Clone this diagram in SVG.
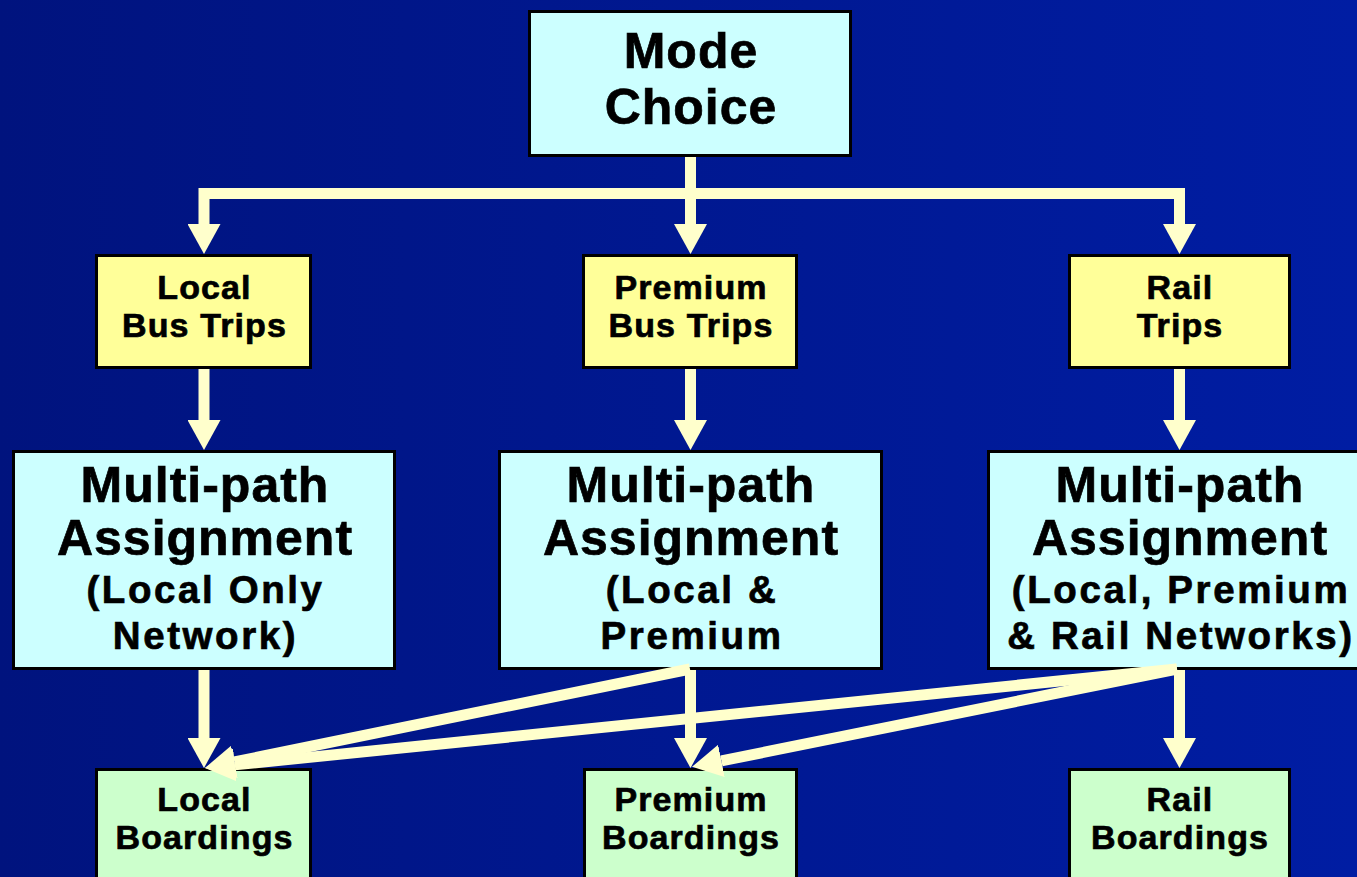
<svg xmlns="http://www.w3.org/2000/svg" width="1357" height="877" viewBox="0 0 1357 877">
  <defs>
    <linearGradient id="bg" x1="0" y1="0" x2="1" y2="0">
      <stop offset="0" stop-color="#00137E"/>
      <stop offset="1" stop-color="#001DA3"/>
    </linearGradient>
    <!-- arrowhead: base at the path end, tip 30px further on -->
    <marker id="head" viewBox="0 0 30 33" refX="0" refY="16.5" markerWidth="30" markerHeight="33" markerUnits="userSpaceOnUse" orient="auto">
      <path d="M0 0 L30 16.5 L0 33 Z" fill="#FFFFCC"/>
    </marker>
    <style>
      .box { stroke: #000; stroke-width: 3; }
      .cyan { fill: #CCFFFF; }
      .yellow { fill: #FFFF99; }
      .green { fill: #CCFFCC; }
      text { font-family: "Liberation Sans", Arial, sans-serif; font-weight: bold; fill: #000; stroke: #000; stroke-width: 0.7; text-anchor: middle; }
      .t48 { font-size: 50px; letter-spacing: 1px; }
      .t36 { font-size: 38.5px; letter-spacing: 2.6px; }
      .t32 { font-size: 34px; letter-spacing: 1.1px; }
      .link { fill: none; stroke: #FFFFCC; stroke-width: 11; stroke-linejoin: miter; stroke-linecap: butt; }
    </style>
  </defs>

  <rect x="0" y="0" width="1357" height="877" fill="url(#bg)"/>

  <!-- top node -->
  <g id="mode-choice">
    <rect class="box cyan" x="529.5" y="11.5" width="321" height="144"/>
    <text class="t48" x="691" y="68">Mode</text>
    <text class="t48" x="691" y="124">Choice</text>
  </g>

  <!-- trip tables -->
  <g id="local-bus-trips">
    <rect class="box yellow" x="96.5" y="255.5" width="214" height="112"/>
    <text class="t32" x="204.5" y="299">Local</text>
    <text class="t32" x="204.5" y="337">Bus Trips</text>
  </g>
  <g id="premium-bus-trips">
    <rect class="box yellow" x="583.5" y="255.5" width="213" height="112"/>
    <text class="t32" x="691" y="299">Premium</text>
    <text class="t32" x="691" y="337">Bus Trips</text>
  </g>
  <g id="rail-trips">
    <rect class="box yellow" x="1069.5" y="255.5" width="220" height="112"/>
    <text class="t32" x="1180" y="299">Rail</text>
    <text class="t32" x="1180" y="337">Trips</text>
  </g>

  <!-- assignments -->
  <g id="assign-local">
    <rect class="box cyan" x="13.5" y="451.5" width="381" height="217"/>
    <text class="t48" x="205" y="502">Multi-path</text>
    <text class="t48" x="205" y="555">Assignment</text>
    <text class="t36" x="205.5" y="603">(Local Only</text>
    <text class="t36" x="205.5" y="649">Network)</text>
  </g>
  <g id="assign-premium">
    <rect class="box cyan" x="499.5" y="451.5" width="382" height="217"/>
    <text class="t48" x="691" y="502">Multi-path</text>
    <text class="t48" x="691" y="555">Assignment</text>
    <text class="t36" x="692" y="603">(Local &amp;</text>
    <text class="t36" x="692" y="649">Premium</text>
  </g>
  <g id="assign-rail">
    <rect class="box cyan" x="988.5" y="451.5" width="382" height="217"/>
    <text class="t48" x="1180" y="502">Multi-path</text>
    <text class="t48" x="1180" y="555">Assignment</text>
    <text class="t36" x="1181" y="603">(Local, Premium</text>
    <text class="t36" x="1181" y="649">&amp; Rail Networks)</text>
  </g>

  <!-- boardings -->
  <g id="local-boardings">
    <rect class="box green" x="96.5" y="769.5" width="214" height="130"/>
    <text class="t32" x="204.5" y="811">Local</text>
    <text class="t32" x="204.5" y="849">Boardings</text>
  </g>
  <g id="premium-boardings">
    <rect class="box green" x="584.5" y="769.5" width="212" height="130"/>
    <text class="t32" x="691" y="811">Premium</text>
    <text class="t32" x="691" y="849">Boardings</text>
  </g>
  <g id="rail-boardings">
    <rect class="box green" x="1069.5" y="769.5" width="220" height="130"/>
    <text class="t32" x="1180" y="811">Rail</text>
    <text class="t32" x="1180" y="849">Boardings</text>
  </g>

  <g id="connectors">
    <!-- mode choice split -->
    <path class="link" d="M690.5 157 V224" marker-end="url(#head)"/>
    <path class="link" d="M690.5 193.5 H204 V224" marker-end="url(#head)"/>
    <path class="link" d="M690.5 193.5 H1179.5 V224" marker-end="url(#head)"/>
    <!-- trips to assignment -->
    <path class="link" d="M204 369 V420" marker-end="url(#head)"/>
    <path class="link" d="M690.5 369 V420" marker-end="url(#head)"/>
    <path class="link" d="M1179.5 369 V420" marker-end="url(#head)"/>
    <!-- assignment to boardings -->
    <path class="link" d="M204 670 V738" marker-end="url(#head)"/>
    <path class="link" d="M690.5 670 V738" marker-end="url(#head)"/>
    <path class="link" d="M1179.5 670 V738" marker-end="url(#head)"/>
    <path class="link" d="M690 669 L234.4 761.9" marker-end="url(#head)"/>
    <path class="link" d="M1177 669 L234.8 764.9" marker-end="url(#head)"/>
    <path class="link" d="M1177 669 L721.4 760.9" marker-end="url(#head)"/>
  </g>
</svg>
